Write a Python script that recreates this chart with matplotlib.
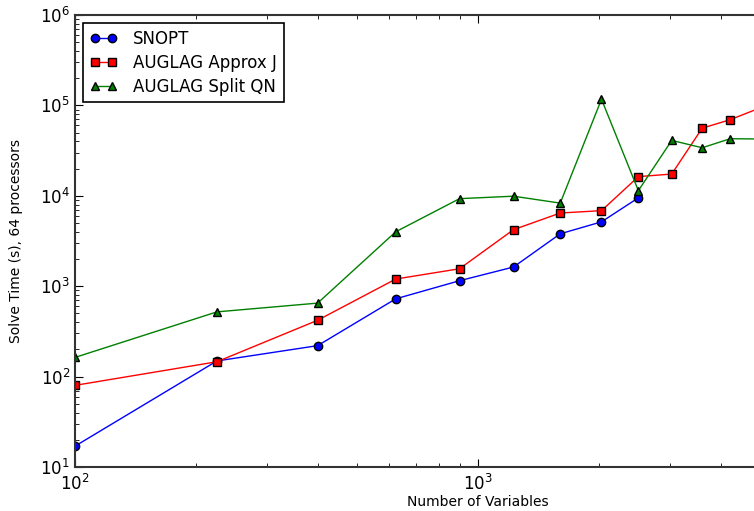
import matplotlib
matplotlib.use("Agg")
import matplotlib.pyplot as plt

# problem sizes (n^2 variables)
n_vars = [100, 225, 400, 625, 900, 1225, 1600, 2025, 2500, 3025, 3600, 4225, 5625]

snopt = [17, 149, 220, 725, 1150, 1630, 3800, 5150, 9500]
auglag_approx_j = [80, 146, 420, 1200, 1560, 4220, 6450, 6850, 16300, 17400, 56000, 69500, 115000]
auglag_split_qn = [163, 520, 650, 4000, 9300, 9900, 8300, 117000, 11400, 41000, 34000, 42800, 42300]

x_major = [100, 1000]

fig = plt.figure(figsize=(7.54, 5.11), dpi=100)
# axes run past the right edge of the figure, like the original crop
ax = fig.add_axes([75 / 754, 44 / 511, 806 / 754, 452 / 511])

ax.plot(n_vars[:len(snopt)], snopt, "-o", color="blue", markerfacecolor="blue",
        markeredgecolor="black", markersize=6, linewidth=1, label="SNOPT")
ax.plot(n_vars, auglag_approx_j, "-s", color="red", markerfacecolor="red",
        markeredgecolor="black", markersize=6, linewidth=1, label="AUGLAG Approx J")
ax.plot(n_vars, auglag_split_qn, "-^", color="green", markerfacecolor="green",
        markeredgecolor="black", markersize=6, linewidth=1, label="AUGLAG Split QN")

ax.set_xscale("log")
ax.set_yscale("log")
ax.set_xlim(100, 10000)
ax.set_ylim(10, 1e6)
ax.set_xticks(x_major)

for s in ax.spines.values():
    s.set_linewidth(1.5)
    s.set_color("#333333")
ax.tick_params(which="both", direction="in", top=True, right=True, labelsize=12)
ax.tick_params(which="major", length=6)
ax.tick_params(which="minor", length=3)
ax.tick_params(axis="x", pad=5)

ax.set_xlabel("Number of Variables", fontsize=10, labelpad=1)
ax.set_ylabel("Solve Time (s), 64 processors", fontsize=10, labelpad=12)

leg = ax.legend(loc="upper left", bbox_to_anchor=(0.0, 1.0), fontsize=12,
                numpoints=2, fancybox=False, framealpha=1, borderaxespad=0.5,
                handlelength=1.6, handletextpad=1.0, labelspacing=0.35,
                borderpad=0.4)
leg.get_frame().set_edgecolor("black")
leg.get_frame().set_linewidth(1.2)

fig.savefig("out.png", dpi=100)
